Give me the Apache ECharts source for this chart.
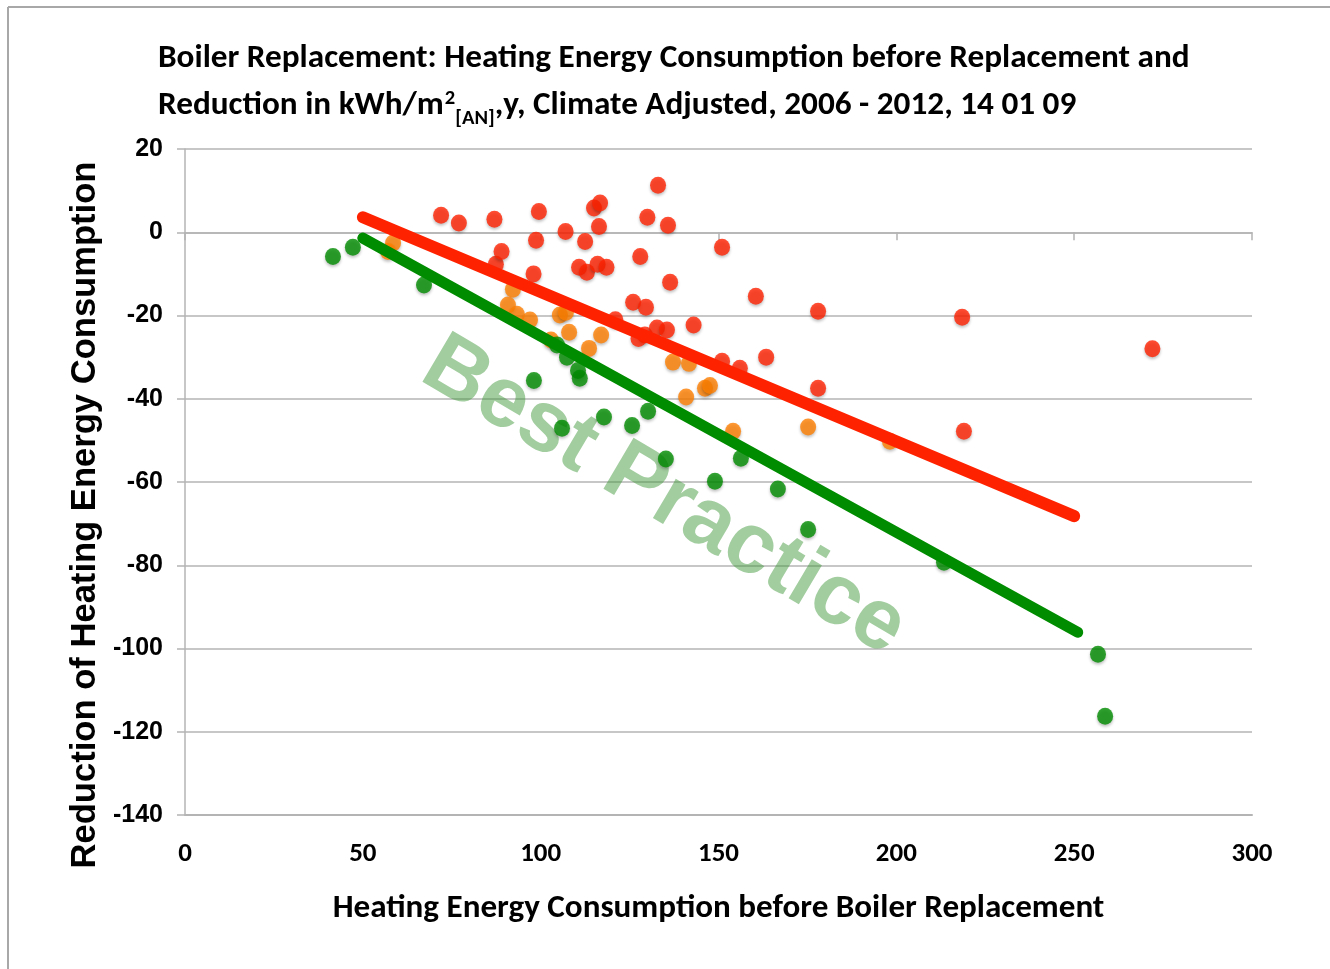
<!DOCTYPE html>
<html>
<head>
<meta charset="utf-8">
<script src="https://cdn.jsdelivr.net/npm/echarts@6/dist/echarts.min.js"></script>
<style>html,body{margin:0;padding:0;background:#fff;}#c{width:1330px;height:969px;}</style>
</head>
<body>
<div id="c"></div>
<script>
// ---- data ----
const titleLine1 = 'Boiler Replacement: Heating Energy Consumption before Replacement and';
const titleLine2a = 'Reduction in kWh/m';
const titleSup = '2';
const titleSub = '[AN]';
const titleLine2b = ',y, Climate Adjusted, 2006 - 2012, 14 01 09';
const xAxisTitle = 'Heating Energy Consumption before Boiler Replacement';
const yAxisTitle = 'Reduction of Heating Energy Consumption';
const watermark = 'Best Practice';

const xTicks = [0, 50, 100, 150, 200, 250, 300];
const yTicks = [20, 0, -20, -40, -60, -80, -100, -120, -140];

const redPoints = [
  [72, 4.1], [77, 2.2], [87, 3.1], [87.4, -7.7], [89, -4.6], [99.5, 5], [98.7, -1.9], [98, -10],
  [107, 0.2], [112.5, -2.2], [110.8, -8.4], [113, -9.6], [116, -7.7], [118.5, -8.4], [115, 5.8],
  [116.7, 7], [116.4, 1.4], [121, -21], [128, -5.8], [130, 3.6], [133, 11.3], [135.8, 1.7],
  [126, -16.8], [129.6, -18], [136.4, -12], [129.3, -24.7], [127.5, -25.5], [132.7, -23], [135.5, -23.5],
  [143, -22.3], [151, -3.6], [151, -31], [156, -32.7], [160.5, -15.4], [163.4, -30], [178, -19],
  [178, -37.5], [218.5, -20.4], [219, -47.8], [272, -28]
];
const orangePoints = [
  [58.5, -2.6], [57.1, -4.6], [92.2, -13.7], [90.8, -17.5], [93.3, -19.7], [97, -21.1], [105.4, -19.9],
  [107.1, -19.2], [108, -24], [102.9, -25.9], [113.6, -27.9], [117, -24.7], [137.2, -31.2], [141.7, -31.5],
  [140.9, -39.6], [146.2, -37.5], [147.6, -36.8], [154.1, -47.8], [175.2, -46.8], [198.2, -50.2]
];
const greenPoints = [
  [41.6, -5.8], [47.2, -3.6], [67.2, -12.7], [98.1, -35.6], [104.6, -27.1], [107.4, -30], [110.5, -33.2],
  [111, -35.1], [106, -47.1], [117.8, -44.4], [125.7, -46.4], [130.2, -43], [135.2, -54.5], [149, -59.8],
  [156.3, -54.3], [166.7, -61.7], [175.2, -71.4], [213.4, -79.3], [256.7, -101.4], [258.7, -116.3]
];
const redTrend = [[50, 3.6], [250, -68.2]];
const greenTrend = [[50, -1.4], [251, -96.1]];

// ---- helpers ----
const CAL = "Carlito, 'Liberation Sans Narrow', 'Arial Narrow', 'DejaVu Sans Condensed', 'Liberation Sans', sans-serif";
const ARIAL = "'Liberation Sans', Arial, sans-serif";
const mctx = document.createElement('canvas').getContext('2d');
function fit(text, weight, family, target) {
  mctx.font = weight + ' 100px ' + family;
  return 100 * target / mctx.measureText(text).width;
}
const titleFs = fit(titleLine1, 'bold', CAL, 1032);
const xNameFs = fit(xAxisTitle, 'bold', CAL, 772);
const xLabFs = fit('300', 'bold', CAL, 41);
const yNameFs = fit(yAxisTitle, 'bold', ARIAL, 708);

const RED = '#ff2200', ORANGE = '#ff8000', GREEN = '#008c00';
const shadow = { shadowBlur: 3, shadowColor: 'rgba(0,0,0,0.3)', shadowOffsetY: 2 };

const chart = echarts.init(document.getElementById('c'), null, { renderer: 'canvas' });
const option = {
  backgroundColor: '#fff',
  animation: false,
  title: {
    left: 158, top: 35, padding: 0,
    text: '{a|' + titleLine1 + '}\n{a|' + titleLine2a + '}{sup|' + titleSup + '}{sub|' + titleSub + '}{a|' + titleLine2b + '}',
    textStyle: {
      rich: {
        a: { fontFamily: CAL, fontWeight: 'bold', fontSize: titleFs, lineHeight: 47, color: '#000' },
        sup: { fontFamily: CAL, fontWeight: 'bold', fontSize: titleFs * 0.62, lineHeight: 20, verticalAlign: 'top', padding: [6, 0, 0, 1], color: '#000' },
        sub: { fontFamily: CAL, fontWeight: 'bold', fontSize: titleFs * 0.62, lineHeight: 20, verticalAlign: 'bottom', padding: [0, 0, 0, 0], color: '#000' }
      }
    }
  },
  grid: { left: 185, right: 78, top: 149, bottom: 154, containLabel: false },
  xAxis: [{
    type: 'value', min: xTicks[0], max: xTicks[xTicks.length - 1], interval: 50, position: 'bottom',
    axisLine: { show: true, onZero: false, lineStyle: { color: '#b4b4b4', width: 2 } },
    axisTick: { show: false },
    splitLine: { show: false },
    axisLabel: { margin: 26, fontFamily: CAL, fontWeight: 'bold', fontSize: xLabFs, color: '#000' },
    name: xAxisTitle, nameLocation: 'middle', nameGap: 77,
    nameTextStyle: { fontFamily: CAL, fontWeight: 'bold', fontSize: xNameFs, color: '#000' }
  }, {
    type: 'value', min: xTicks[0], max: xTicks[xTicks.length - 1], interval: 50, position: 'bottom',
    axisLine: { show: true, onZero: true, lineStyle: { color: '#b4b4b4', width: 1.5 } },
    axisTick: { show: true, length: 8, lineStyle: { color: '#b4b4b4', width: 1.5 } },
    axisLabel: { show: false },
    splitLine: { show: false }
  }],
  yAxis: {
    type: 'value', min: yTicks[yTicks.length - 1], max: yTicks[0], interval: 20,
    axisLine: { show: true, lineStyle: { color: '#b4b4b4', width: 1.5 } },
    axisTick: { show: true, length: 8, lineStyle: { color: '#b4b4b4', width: 1.5 } },
    splitLine: { show: true, lineStyle: { color: '#b4b4b4', width: 1.5 } },
    axisLabel: { margin: 22, fontFamily: ARIAL, fontWeight: 'bold', fontSize: 25, color: '#000' }
  },
  graphic: [
    { type: 'line', z: 0, silent: true, shape: { x1: 8, y1: 7, x2: 1330, y2: 7 }, style: { stroke: '#a8a8a8', lineWidth: 2 } },
    { type: 'line', z: 0, silent: true, shape: { x1: 8, y1: 7, x2: 8, y2: 969 }, style: { stroke: '#a8a8a8', lineWidth: 2 } },
    {
      type: 'text', z: 1, silent: true, x: 85, y: 515, rotation: Math.PI / 2,
      style: { text: yAxisTitle, font: 'bold ' + yNameFs.toFixed(1) + 'px ' + ARIAL, fill: '#000', textAlign: 'center', textVerticalAlign: 'middle' }
    },
    {
      type: 'text', z: 1, silent: true, x: 664, y: 497, rotation: -30.6 * Math.PI / 180,
      style: { text: watermark, font: 'bold 86px ' + ARIAL, fill: 'rgba(60,150,55,0.48)', textAlign: 'center', textVerticalAlign: 'middle' }
    }
  ],
  series: [
    { type: 'scatter', name: 'red', data: redPoints, symbolSize: [16, 17], z: 3, itemStyle: Object.assign({ color: RED }, shadow) },
    { type: 'scatter', name: 'orange', data: orangePoints, symbolSize: [16, 17], z: 3, itemStyle: Object.assign({ color: ORANGE }, shadow) },
    { type: 'scatter', name: 'green', data: greenPoints, symbolSize: [16, 17], z: 3, itemStyle: Object.assign({ color: GREEN }, shadow) },
    { type: 'line', name: 'redTrend', data: redTrend, symbol: 'none', z: 4, lineStyle: { color: RED, width: 12, cap: 'round' } },
    { type: 'line', name: 'greenTrend', data: greenTrend, symbol: 'none', z: 4, lineStyle: { color: GREEN, width: 11, cap: 'round' } }
  ]
};
chart.setOption(option);
</script>
</body>
</html>
